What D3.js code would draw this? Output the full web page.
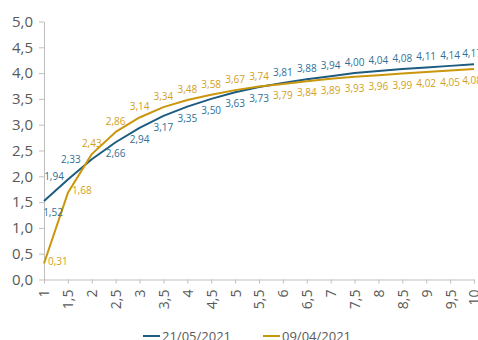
<!DOCTYPE html>
<html>
<head>
<meta charset="utf-8">
<script src="https://cdn.jsdelivr.net/npm/d3@7"></script>
<style>
  html, body { margin: 0; padding: 0; background: #fff; }
  svg { display: block; }
  text { font-family: "Open Sans", "Liberation Sans", sans-serif; }
</style>
</head>
<body>
<svg id="chart" width="478" height="340"></svg>
<script>
// ---- data ----
const maturities = [1, 1.5, 2, 2.5, 3, 3.5, 4, 4.5, 5, 5.5, 6, 6.5, 7, 7.5, 8, 8.5, 9, 9.5, 10];
const seriesNames = ["21/05/2021", "09/04/2021"];
const values2105 = [1.52, 1.94, 2.33, 2.66, 2.94, 3.17, 3.35, 3.50, 3.63, 3.73, 3.81, 3.88, 3.94, 4.00, 4.04, 4.08, 4.11, 4.14, 4.17];
const values0904 = [0.31, 1.68, 2.43, 2.86, 3.14, 3.34, 3.48, 3.58, 3.67, 3.74, 3.79, 3.84, 3.89, 3.93, 3.96, 3.99, 4.02, 4.05, 4.08];
const yTicks = [0, 0.5, 1, 1.5, 2, 2.5, 3, 3.5, 4, 4.5, 5];

// label placement per series (layout config)
const place2105 = i => i === 0 ? "below" : (i <= 2 ? "left" : (i <= 9 ? "below" : "above"));
const place0904 = i => i <= 1 ? "right" : (i <= 9 ? "above" : "below");

const colors = ["#1d5b80", "#c9960c"];
const labelColors = ["#2f6f96", "#d4a020"];

const svg = d3.select("#chart");
const m = { left: 44, right: 474, top: 21.5, bottom: 279.5 };

const x = d3.scaleLinear().domain([1, 10]).range([m.left, m.right]);
const y = d3.scaleLinear().domain([0, 5]).range([m.bottom, m.top]);

const comma = v => d3.format(".1f")(v).replace(".", ",");
const commaX = v => String(v).replace(".", ",");
const comma2 = v => d3.format(".2f")(v).replace(".", ",");

// y axis
const yAxis = svg.append("g")
  .attr("transform", `translate(${m.left},0)`)
  .call(d3.axisLeft(y).tickValues(yTicks).tickFormat(comma).tickSize(5).tickSizeOuter(0).tickPadding(6));
yAxis.select(".domain").attr("stroke", "#bfbfbf");
yAxis.selectAll(".tick line").attr("stroke", "#bfbfbf");
yAxis.selectAll(".tick text").attr("fill", "#595959").style("font-size", "15px");

// x axis
const xAxis = svg.append("g")
  .attr("transform", `translate(0,${m.bottom})`)
  .call(d3.axisBottom(x).tickValues(maturities).tickFormat(commaX).tickSize(4).tickSizeOuter(0));
xAxis.select(".domain").attr("stroke", "#bfbfbf");
xAxis.selectAll(".tick line").attr("stroke", "#bfbfbf");
xAxis.selectAll(".tick text")
  .attr("fill", "#595959")
  .style("font-size", "14px")
  .attr("text-anchor", "end")
  .attr("transform", "rotate(-90)")
  .attr("x", -10)
  .attr("y", 0)
  .attr("dy", "0.35em");

// lines
const series = [values2105, values0904];
const line = d3.line().x((d, i) => x(maturities[i])).y(d => y(d));
series.forEach((vals, s) => {
  svg.append("path")
    .datum(vals)
    .attr("fill", "none")
    .attr("stroke", colors[s])
    .attr("stroke-width", 2)
    .attr("stroke-linejoin", "round")
    .attr("d", line);
});

// data labels
const placers = [place2105, place0904];
series.forEach((vals, s) => {
  const g = svg.append("g");
  vals.forEach((v, i) => {
    const px = x(maturities[i]), py = y(v);
    const p = placers[s](i);
    const t = g.append("text")
      .attr("fill", labelColors[s])
      .style("font-size", "10px")
      .text(comma2(v));
    const cx = Math.min(Math.max(px, m.left + 9), m.right - 2);
    if (p === "above") {
      t.attr("x", cx).attr("y", py - 7).attr("text-anchor", "middle");
    } else if (p === "below") {
      t.attr("x", cx).attr("y", py + 15).attr("text-anchor", "middle");
    } else if (p === "left") {
      t.attr("x", px - (i === 2 ? 11 : 4)).attr("y", py + (i === 2 ? 4 : 1)).attr("text-anchor", "end");
    } else {
      t.attr("x", px + 4).attr("y", py + 1).attr("text-anchor", "start");
    }
  });
});

// legend
const legendItems = [{ x: 143, name: seriesNames[0], c: colors[0] }, { x: 263, name: seriesNames[1], c: colors[1] }];
legendItems.forEach(d => {
  svg.append("line").attr("x1", d.x).attr("x2", d.x + 17).attr("y1", 336).attr("y2", 336)
    .attr("stroke", d.c).attr("stroke-width", 2);
  svg.append("text").attr("x", d.x + 19).attr("y", 341).attr("fill", "#595959")
    .style("font-size", "13px").text(d.name);
});
</script>
</body>
</html>
